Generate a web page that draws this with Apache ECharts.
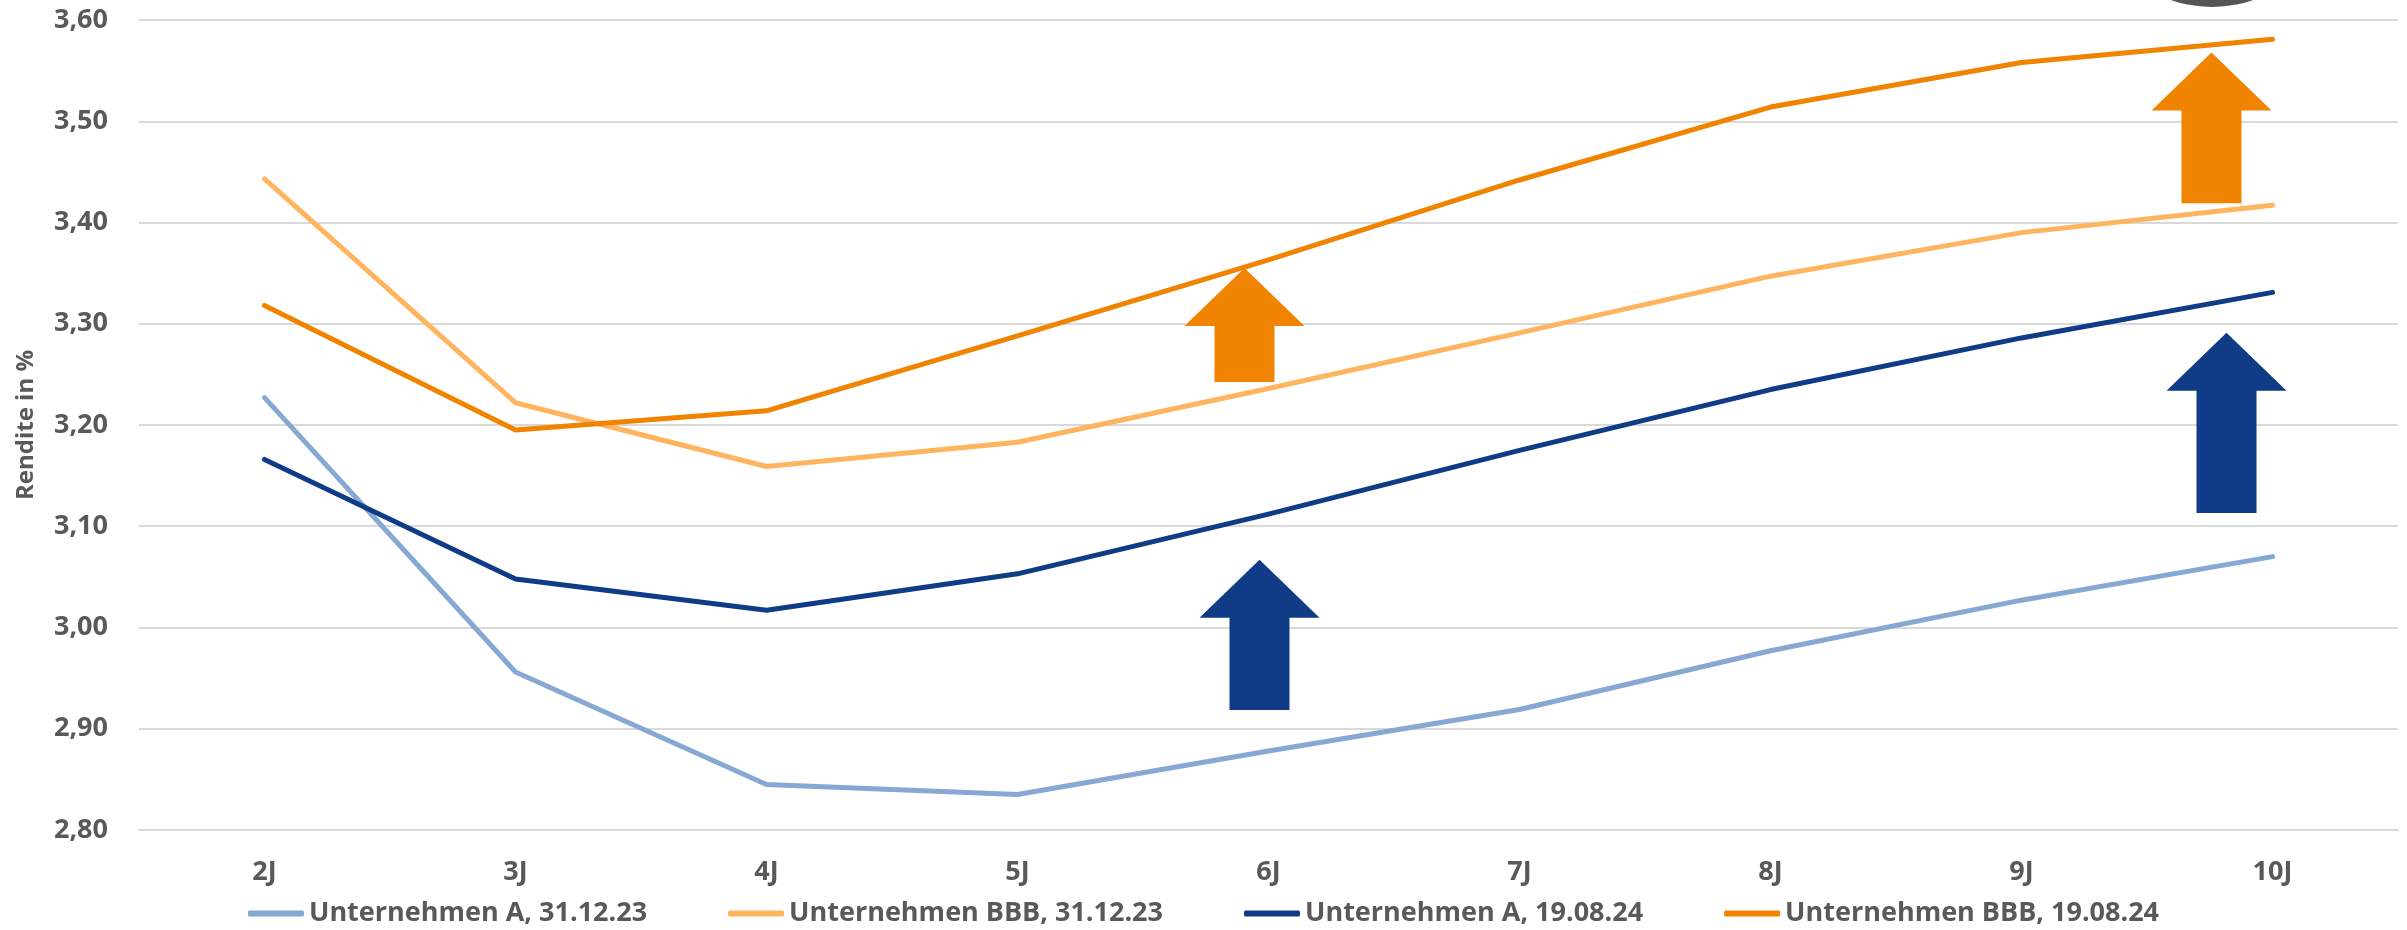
<!DOCTYPE html>
<html>
<head>
<meta charset="utf-8">
<script src="https://cdn.jsdelivr.net/npm/echarts@6/dist/echarts.min.js"></script>
<style>
  html, body { margin: 0; padding: 0; background: #ffffff; }
  #chart { width: 2407px; height: 930px; }
</style>
</head>
<body>
<div id="chart"></div>
<script>
// Laufzeiten (Jahre)
const categories = ['2J', '3J', '4J', '5J', '6J', '7J', '8J', '9J', '10J'];

// Renditen in % je Laufzeit
const unternehmenA_311223   = [3.227, 2.956, 2.845, 2.835, 2.878, 2.919, 2.977, 3.027, 3.070];
const unternehmenBBB_311223 = [3.443, 3.222, 3.159, 3.183, 3.236, 3.291, 3.347, 3.390, 3.417];
const unternehmenA_190824   = [3.166, 3.048, 3.017, 3.053, 3.112, 3.175, 3.235, 3.286, 3.331];
const unternehmenBBB_190824 = [3.318, 3.195, 3.214, 3.288, 3.363, 3.442, 3.514, 3.558, 3.581];

const seriesNames = [
  'Unternehmen A, 31.12.23',
  'Unternehmen BBB, 31.12.23',
  'Unternehmen A, 19.08.24',
  'Unternehmen BBB, 19.08.24'
];

// Y-Achse: 2,80 bis 3,60 in Schritten von 0,10
const yMin = 2.8;
const yMax = 3.6;
const yStep = 0.1;
const yAxisTitle = 'Rendite in %';

// Pfeile: Anstieg der Renditen (Spitze und Fuß als Renditewerte)
const risingArrows = [
  { category: '6J',  tip: 3.355, foot: 3.2425, color: '#F08300', shift: -24 },
  { category: '6J',  tip: 3.067, foot: 2.9185, color: '#0F3B87', shift: -9 },
  { category: '10J', tip: 3.568, foot: 3.419,  color: '#F08300', shift: -61 },
  { category: '10J', tip: 3.291, foot: 3.113,  color: '#0F3B87', shift: -46 }
];

const FONT = '"Open Sans", "DejaVu Sans", sans-serif';
const TEXT_COLOR = '#595959';
const colors = ['#86A8D2', '#FFB45F', '#0F3B87', '#F08300'];
const seriesData = [unternehmenA_311223, unternehmenBBB_311223, unternehmenA_190824, unternehmenBBB_190824];

const chart = echarts.init(document.getElementById('chart'), null, { renderer: 'canvas' });

chart.setOption({
  animation: false,
  backgroundColor: '#ffffff',
  color: colors,
  textStyle: { fontFamily: FONT },
  grid: { left: 139, right: 9, top: 20, bottom: 100, containLabel: false },
  legend: {
    data: seriesNames,
    left: 'center',
    top: 895,
    icon: 'roundRect',
    itemWidth: 56,
    itemHeight: 6,
    itemGap: 81,
    textStyle: { fontFamily: FONT, fontSize: 27, fontWeight: 'bold', color: TEXT_COLOR }
  },
  xAxis: {
    type: 'category',
    data: categories,
    boundaryGap: true,
    axisLine: { show: true, lineStyle: { color: '#D9D9D9', width: 2 } },
    axisTick: { show: false },
    axisLabel: { margin: 29, fontFamily: FONT, fontSize: 27, fontWeight: 'bold', color: TEXT_COLOR }
  },
  yAxis: {
    type: 'value',
    min: yMin,
    max: yMax,
    interval: yStep,
    name: yAxisTitle,
    nameLocation: 'middle',
    nameGap: 101,
    nameTextStyle: { fontFamily: FONT, fontSize: 24, fontWeight: 'bold', color: TEXT_COLOR },
    axisLine: { show: false },
    axisTick: { show: false },
    splitLine: { show: true, lineStyle: { color: '#D9D9D9', width: 2 } },
    axisLabel: {
      margin: 31,
      fontFamily: FONT,
      fontSize: 27,
      fontWeight: 'bold',
      color: TEXT_COLOR,
      formatter: v => v.toFixed(2).replace('.', ',')
    }
  },
  series: seriesNames.map((name, i) => ({
    name: name,
    type: 'line',
    data: seriesData[i],
    symbol: 'none',
    smooth: false,
    lineStyle: { width: 5, color: colors[i], cap: 'round', join: 'round' },
    emphasis: { disabled: true }
  }))
});

// Pfeile über die Achsen in Pixel umrechnen
const HEAD_HALF = 60, SHAFT_HALF = 30, HEAD_HEIGHT = 58;
const arrowGraphics = risingArrows.map(a => {
  const idx = categories.indexOf(a.category);
  const tipPt = chart.convertToPixel({ gridIndex: 0 }, [idx, a.tip]);
  const footPt = chart.convertToPixel({ gridIndex: 0 }, [idx, a.foot]);
  const cx = tipPt[0] + a.shift;
  const ty = tipPt[1];
  const hy = ty + HEAD_HEIGHT;
  const by = footPt[1];
  return {
    type: 'polygon',
    z: 10,
    shape: {
      points: [
        [cx, ty], [cx + HEAD_HALF, hy], [cx + SHAFT_HALF, hy], [cx + SHAFT_HALF, by],
        [cx - SHAFT_HALF, by], [cx - SHAFT_HALF, hy], [cx - HEAD_HALF, hy]
      ]
    },
    style: { fill: a.color }
  };
});

// angeschnittener grauer Kreis am oberen Rand
const topBadge = {
  type: 'circle',
  z: 10,
  shape: { cx: 2212, cy: -119, r: 126 },
  style: { fill: '#555555' }
};

chart.setOption({ graphic: arrowGraphics.concat([topBadge]) });
</script>
</body>
</html>
